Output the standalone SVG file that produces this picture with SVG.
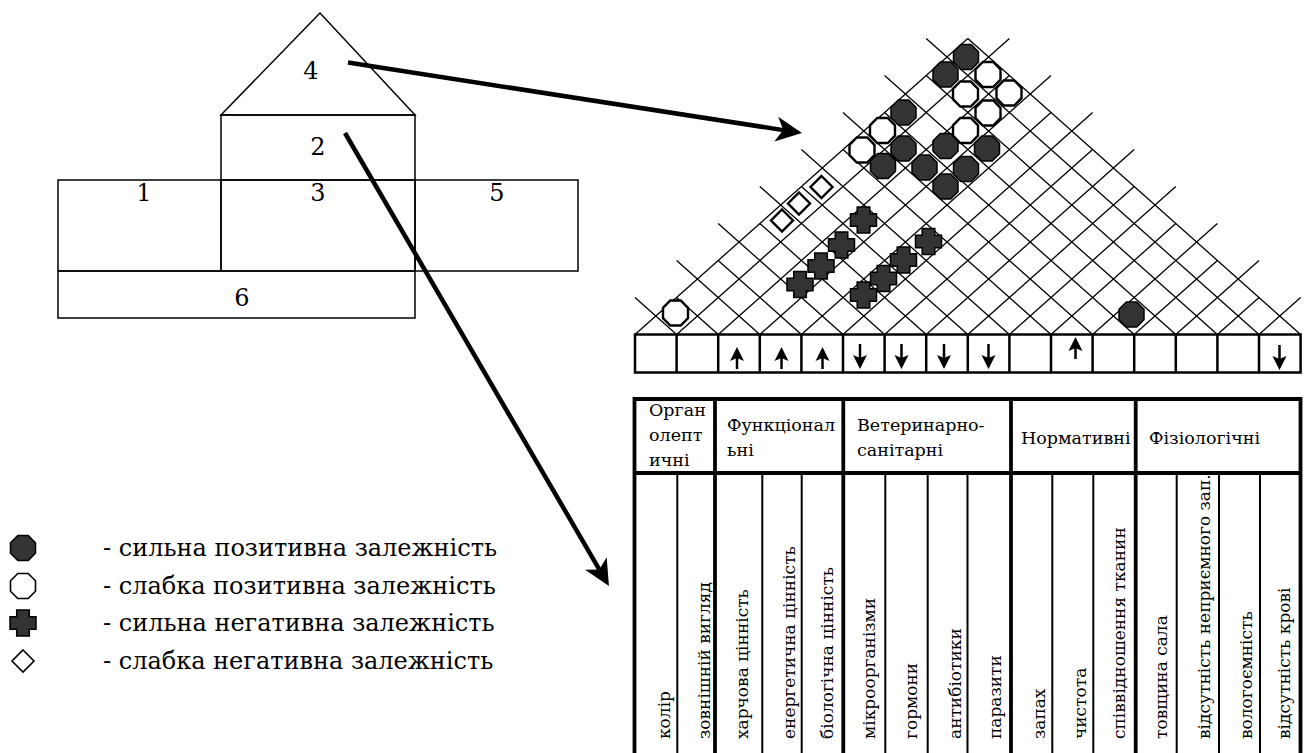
<svg xmlns="http://www.w3.org/2000/svg" width="1305" height="753" viewBox="0 0 1305 753">
  <defs>
    <style>
      text { font-family: "DejaVu Serif", serif; fill: #000; }
      .house { fill: none; stroke: #000; stroke-width: 1.5; }
      .digit { font-size: 24px; text-anchor: middle; }
      .grid { fill: none; stroke: #000; stroke-width: 1.3; }
      .cell { fill: none; stroke: #000; stroke-width: 2.5; }
      .thick { stroke: #000; stroke-width: 3.8; }
      .thin { stroke: #000; stroke-width: 2; }
      .head { font-size: 17.5px; }
      .col { font-size: 17px; }
      .legend { font-size: 24px; }
      .strong { fill: #333; stroke: #000; stroke-width: 1.5; }
      .weak { fill: #fff; stroke: #000; stroke-width: 2.4; }
      .weakl { fill: #fff; stroke: #000; stroke-width: 1.6; }
      .link { fill: none; stroke: #000; stroke-width: 4.5; }
    </style>
    <polygon id="oct" points="-5.2,-12.5 5.2,-12.5 12.5,-5.2 12.5,5.2 5.2,12.5 -5.2,12.5 -12.5,5.2 -12.5,-5.2"/>
    <polygon id="cross" points="-6.3,-13 6.3,-13 6.3,-6.3 13,-6.3 13,6.3 6.3,6.3 6.3,13 -6.3,13 -6.3,6.3 -13,6.3 -13,-6.3 -6.3,-6.3"/>
    <polygon id="dia" points="0,-11 11,0 0,11 -11,0"/>
    <g id="up">
      <line x1="0" y1="9" x2="0" y2="22" stroke="#000" stroke-width="2.5"/>
      <polygon points="0,0 -7,14 0,11 7,14" fill="#000"/>
    </g>
    <g id="down">
      <line x1="0" y1="-9" x2="0" y2="-25" stroke="#000" stroke-width="2.5"/>
      <polygon points="0,0 -7,-14 0,-11 7,-14" fill="#000"/>
    </g>
    <marker id="arrowhead" viewBox="-10 -15 32 30" markerWidth="32" markerHeight="30" refX="0" refY="0" orient="auto" markerUnits="userSpaceOnUse">
      <path d="M19,0 L-7,-12.5 L0,0 L-7,12.5 Z" fill="#000"/>
    </marker>
  </defs>

  <rect width="1305" height="753" fill="#fff"/>

  <!-- house of quality outline -->
  <g id="part-4">
    <polygon class="house" points="320,13 221,115 415,115"/>
    <text class="digit" x="311" y="79">4</text>
  </g>
  <g id="part-2">
    <rect class="house" x="221" y="115" width="194" height="65"/>
    <text class="digit" x="318" y="155">2</text>
  </g>
  <g id="part-1">
    <rect class="house" x="58" y="180" width="163" height="91"/>
    <text class="digit" x="144" y="201">1</text>
  </g>
  <g id="part-3">
    <rect class="house" x="221" y="180" width="194" height="91"/>
    <text class="digit" x="318" y="201">3</text>
  </g>
  <g id="part-5">
    <rect class="house" x="415" y="180" width="163" height="91"/>
    <text class="digit" x="497" y="201">5</text>
  </g>
  <g id="part-6">
    <rect class="house" x="58" y="271" width="357" height="47"/>
    <text class="digit" x="242" y="306">6</text>
  </g>

  <!-- correlation roof -->
  <g id="roof-matrix" class="grid">
    <path d="M635,334.5 L967.8,38.5 M676.6,334.5 L1009.4,38.5 M718.2,334.5 L1009.4,75.5 M759.8,334.5 L1051,75.5 M801.4,334.5 L1051,112.5 M843,334.5 L1092.6,112.5 M884.6,334.5 L1092.6,149.5 M926.2,334.5 L1134.2,149.5 M967.8,334.5 L1134.2,186.5 M1009.4,334.5 L1175.8,186.5 M1051,334.5 L1175.8,223.5 M1092.6,334.5 L1217.4,223.5 M1134.2,334.5 L1217.4,260.5 M1175.8,334.5 L1259,260.5 M1217.4,334.5 L1259,297.5 M1259,334.5 L1300.6,297.5"/>
    <path d="M676.6,334.5 L635,297.5 M718.2,334.5 L676.6,297.5 M759.8,334.5 L676.6,260.5 M801.4,334.5 L718.2,260.5 M843,334.5 L718.2,223.5 M884.6,334.5 L759.8,223.5 M926.2,334.5 L759.8,186.5 M967.8,334.5 L801.4,186.5 M1009.4,334.5 L801.4,149.5 M1051,334.5 L843,149.5 M1092.6,334.5 L843,112.5 M1134.2,334.5 L884.6,112.5 M1175.8,334.5 L884.6,75.5 M1217.4,334.5 L926.2,75.5 M1259,334.5 L926.2,38.5 M1300.6,334.5 L967.8,38.5"/>
  </g>

  <!-- correlation marks -->
  <g id="marks-strong-positive" class="strong">
    <use href="#oct" x="966" y="57"/>
    <use href="#oct" x="945.5" y="74.5"/>
    <use href="#oct" x="903.5" y="112.5"/>
    <use href="#oct" x="903.5" y="148.5"/>
    <use href="#oct" x="945.5" y="146"/>
    <use href="#oct" x="987" y="148.5"/>
    <use href="#oct" x="883" y="166"/>
    <use href="#oct" x="924.5" y="167.5"/>
    <use href="#oct" x="966" y="169"/>
    <use href="#oct" x="945.5" y="186.5"/>
    <use href="#oct" x="1131.5" y="314.5"/>
  </g>
  <g id="marks-weak-positive" class="weak">
    <use href="#oct" x="988" y="74.5"/>
    <use href="#oct" x="965.5" y="94"/>
    <use href="#oct" x="1009" y="93"/>
    <use href="#oct" x="988" y="113"/>
    <use href="#oct" x="965.5" y="130.5"/>
    <use href="#oct" x="882.5" y="130.5"/>
    <use href="#oct" x="862" y="150"/>
    <use href="#oct" x="675.5" y="313"/>
  </g>
  <g id="marks-strong-negative" class="strong">
    <use href="#cross" x="863.5" y="220"/>
    <use href="#cross" x="841.5" y="245"/>
    <use href="#cross" x="821" y="266"/>
    <use href="#cross" x="800" y="284.5"/>
    <use href="#cross" x="928.5" y="241.5"/>
    <use href="#cross" x="903.5" y="260"/>
    <use href="#cross" x="883.5" y="278.5"/>
    <use href="#cross" x="863.5" y="295"/>
  </g>
  <g id="marks-weak-negative" class="weak">
    <use href="#dia" x="821.5" y="187"/>
    <use href="#dia" x="799" y="203.5"/>
    <use href="#dia" x="782" y="220.5"/>
  </g>

  <!-- direction of improvement row -->
  <g id="direction-row">
    <rect class="cell" x="635" y="334.5" width="665.6" height="38"/>
    <path class="cell" d="M676.6,334.5 V372.5 M718.2,334.5 V372.5 M759.8,334.5 V372.5 M801.4,334.5 V372.5 M843,334.5 V372.5 M884.6,334.5 V372.5 M926.2,334.5 V372.5 M967.8,334.5 V372.5 M1009.4,334.5 V372.5 M1051,334.5 V372.5 M1092.6,334.5 V372.5 M1134.2,334.5 V372.5 M1175.8,334.5 V372.5 M1217.4,334.5 V372.5 M1259,334.5 V372.5"/>
    <use href="#up" x="737" y="347"/>
    <use href="#up" x="781.5" y="347"/>
    <use href="#up" x="822.5" y="347"/>
    <use href="#down" x="860" y="369"/>
    <use href="#down" x="901.5" y="369"/>
    <use href="#down" x="944" y="369"/>
    <use href="#down" x="988.5" y="369"/>
    <use href="#up" x="1075.5" y="337"/>
    <use href="#down" x="1279.5" y="370"/>
  </g>

  <!-- requirements table -->
  <g id="requirements-table">
    <path class="thin" d="M677.3,473 V753 M762.3,473 V753 M801.7,473 V753 M885.3,473 V753 M927.7,473 V753 M967.5,473 V753 M1052.3,473 V753 M1093.3,473 V753 M1176.7,473 V753 M1219,473 V753 M1260,473 V753"/>
    <path class="thick" d="M634.5,399 H1300.5 M634.5,473 H1300.5 M634.5,397.1 V753 M1300.5,397.1 V753 M715,399 V753 M843.3,399 V753 M1011,399 V753 M1135.7,399 V753"/>

    <g class="head">
      <text x="649" y="416">Орган</text>
      <text x="649" y="441">олепт</text>
      <text x="649" y="466">ичні</text>
      <text x="727" y="431">Функціонал</text>
      <text x="727" y="456">ьні</text>
      <text x="857" y="431">Ветеринарно-</text>
      <text x="857" y="456">санітарні</text>
      <text x="1021" y="444">Нормативні</text>
      <text x="1149" y="444">Фізіологічні</text>
    </g>

    <g class="col">
      <text transform="translate(669.5,739) rotate(-90)">колір</text>
      <text transform="translate(710,739) rotate(-90)">зовнішній вигляд</text>
      <text transform="translate(748,739) rotate(-90)">харчова цінність</text>
      <text transform="translate(794.5,739) rotate(-90)">енергетична цінність</text>
      <text transform="translate(833,739) rotate(-90)">біологічна цінність</text>
      <text transform="translate(874.5,739) rotate(-90)">мікроорганізми</text>
      <text transform="translate(916.5,739) rotate(-90)">гормони</text>
      <text transform="translate(961,739) rotate(-90)">антибіотики</text>
      <text transform="translate(1001,739) rotate(-90)">паразити</text>
      <text transform="translate(1045,739) rotate(-90)">запах</text>
      <text transform="translate(1086,739) rotate(-90)">чистота</text>
      <text transform="translate(1124.5,739) rotate(-90)">співвідношення тканин</text>
      <text transform="translate(1166.5,739) rotate(-90)">товщина сала</text>
      <text transform="translate(1209.5,739) rotate(-90)">відсутність неприємного зап.</text>
      <text transform="translate(1252,739) rotate(-90)">вологоємність</text>
      <text transform="translate(1289.5,739) rotate(-90)">відсутність крові</text>
    </g>
  </g>

  <!-- legend -->
  <g id="legend">
    <use href="#oct" x="23" y="548" class="strong"/>
    <use href="#oct" x="23" y="586" class="weakl"/>
    <use href="#cross" x="23" y="623" class="strong"/>
    <use href="#dia" x="23" y="661" class="weakl"/>
    <g class="legend">
      <text x="103" y="556">- сильна позитивна залежність</text>
      <text x="103" y="594">- слабка позитивна залежність</text>
      <text x="103" y="631">- сильна негативна залежність</text>
      <text x="103" y="669">- слабка негативна залежність</text>
    </g>
  </g>

  <!-- connectors from house parts to their detailed views -->
  <g id="connectors">
    <path id="link-roof" class="link" d="M348,62.5 L783.2,130.1" marker-end="url(#arrowhead)"/>
    <path id="link-body" class="link" d="M345,133 L599.4,569.6" marker-end="url(#arrowhead)"/>
  </g>
</svg>
